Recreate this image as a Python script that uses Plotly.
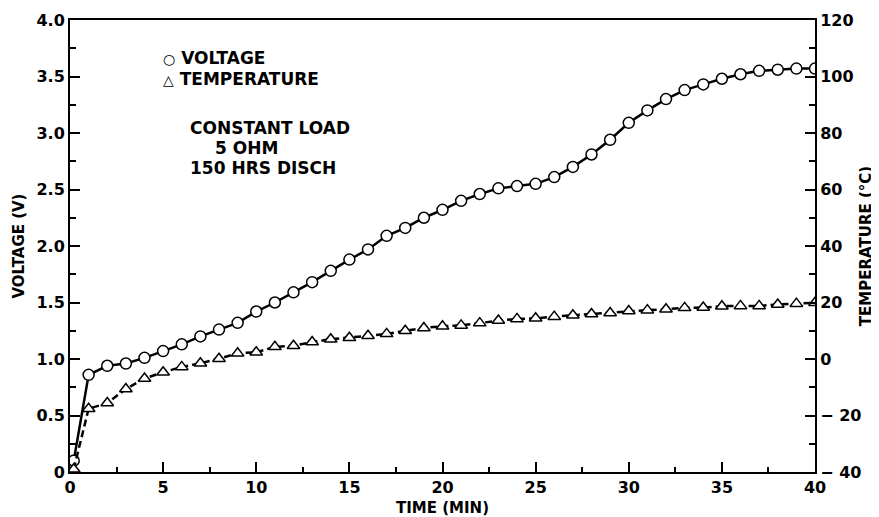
import plotly.graph_objects as go

# ---- data ----
volt_time = [0.2, 1, 2, 3, 4, 5, 6, 7, 8, 9, 10, 11, 12, 13, 14, 15, 16, 17, 18, 19, 20,
             21, 22, 23, 24, 25, 26, 27, 28, 29, 30, 31, 32, 33, 34, 35, 36, 37, 38, 39, 40]
voltage = [0.10, 0.86, 0.94, 0.96, 1.01, 1.07, 1.13, 1.20, 1.26, 1.32, 1.42, 1.50, 1.59,
           1.68, 1.78, 1.88, 1.97, 2.09, 2.16, 2.25, 2.32, 2.40, 2.46, 2.51, 2.53, 2.55,
           2.61, 2.70, 2.81, 2.94, 3.09, 3.20, 3.30, 3.38, 3.43, 3.48, 3.52, 3.55, 3.56,
           3.57, 3.57]

temp_time = [0.2, 1, 2, 3, 4, 5, 6, 7, 8, 9, 10, 11, 12, 13, 14, 15, 16, 17, 18, 19, 20,
             21, 22, 23, 24, 25, 26, 27, 28, 29, 30, 31, 32, 33, 34, 35, 36, 37, 38, 39, 40]
temperature = [-39.0, -17.6, -15.6, -10.6, -6.9, -4.7, -2.8, -1.5, 0.1, 2.0, 2.4, 4.3, 4.7,
               6.0, 7.0, 7.5, 8.2, 8.9, 10.0, 11.0, 11.6, 11.9, 12.7, 13.6, 14.2, 14.4,
               15.0, 15.5, 15.9, 16.3, 17.0, 17.3, 17.6, 18.1, 18.2, 18.7, 18.8, 18.8,
               19.3, 19.6, 19.9]

x_ticks = [0, 5, 10, 15, 20, 25, 30, 35, 40]
v_ticks = [0, 0.5, 1.0, 1.5, 2.0, 2.5, 3.0, 3.5, 4.0]
v_ticktext = ["0", "0.5", "1.0", "1.5", "2.0", "2.5", "3.0", "3.5", "4.0"]
t_ticks = [-40, -20, 0, 20, 40, 60, 80, 100, 120]
t_ticktext = ["\u2212 40", "\u2212 20", "0", "20", "40", "60", "80", "100", "120"]

legend_lines = ["<span style='font-size:14px'>\u25CB</span> VOLTAGE",
                "<span style='font-size:14px'>\u25B3</span> TEMPERATURE"]
note_lines = ["CONSTANT LOAD", "5 OHM", "150 HRS DISCH"]

FONT = "DejaVu Sans"
tickfont = dict(family=FONT, size=16, color="black", weight="bold")
titlefont = dict(family=FONT, size=15, color="black", weight="bold")

fig = go.Figure()
fig.add_trace(go.Scatter(
    x=volt_time, y=voltage, mode="lines+markers", name="VOLTAGE",
    line=dict(color="black", width=2.5),
    marker=dict(symbol="circle", size=11, color="white",
                line=dict(color="black", width=1.5)),
    showlegend=False))
fig.add_trace(go.Scatter(
    x=temp_time, y=temperature, mode="lines+markers", name="TEMPERATURE",
    yaxis="y2",
    line=dict(color="black", width=2.5, dash="7px,4px"),
    marker=dict(symbol="triangle-up", size=11, color="white",
                line=dict(color="black", width=1.5)),
    showlegend=False))

annot_font = dict(family=FONT, size=17, color="black", weight="bold")
for txt, yy in zip(legend_lines, [0.916, 0.869]):
    fig.add_annotation(xref="paper", yref="paper", x=0.122, y=yy, xanchor="left",
                       yanchor="middle", showarrow=False, font=annot_font, text=txt)
for txt, xx, yy in zip(note_lines, [0.158, 0.192, 0.158], [0.761, 0.717, 0.673]):
    fig.add_annotation(xref="paper", yref="paper", x=xx, y=yy, xanchor="left",
                       yanchor="middle", showarrow=False, font=annot_font, text=txt)

# the page is shown with an 8px body margin, so the figure is sized to fit inside it
fig.update_layout(
    width=871, height=509,
    margin=dict(l=62, r=64, t=12, b=45),
    paper_bgcolor="white", plot_bgcolor="white",
    xaxis=dict(range=[0, 40], tickvals=x_ticks, showgrid=False, zeroline=False,
               automargin=False,
               showline=True, linecolor="black", linewidth=2, mirror=True,
               ticks="inside", ticklen=10, tickwidth=1.5, tickcolor="black",
               minor=dict(ticks="inside", ticklen=5, dtick=2.5, tickcolor="black",
                          tickwidth=1.5, showgrid=False),
               tickfont=tickfont,
               title=dict(text="TIME (MIN)", font=titlefont, standoff=6)),
    yaxis=dict(range=[0, 4], tickvals=v_ticks, ticktext=v_ticktext, showgrid=False,
               automargin=False,
               zeroline=False, showline=True, linecolor="black", linewidth=2,
               ticks="inside", ticklen=10, tickwidth=1.5, tickcolor="black",
               minor=dict(ticks="inside", ticklen=6, dtick=0.25, tickcolor="black",
                          tickwidth=1.5, showgrid=False),
               tickfont=tickfont,
               title=dict(text="VOLTAGE (V)", font=titlefont, standoff=8)),
    yaxis2=dict(range=[-40, 120], tickvals=t_ticks, ticktext=t_ticktext,
                automargin=False,
                overlaying="y", side="right", showgrid=False, zeroline=False,
                showline=True, linecolor="black", linewidth=2,
                ticks="inside", ticklen=10, tickwidth=1.5, tickcolor="black",
                minor=dict(ticks="inside", ticklen=6, dtick=10, tickcolor="black",
                           tickwidth=1.5, showgrid=False),
                tickfont=tickfont,
                title=dict(text="TEMPERATURE (°C)", font=titlefont, standoff=0)),
)

fig.write_html("out.html")
